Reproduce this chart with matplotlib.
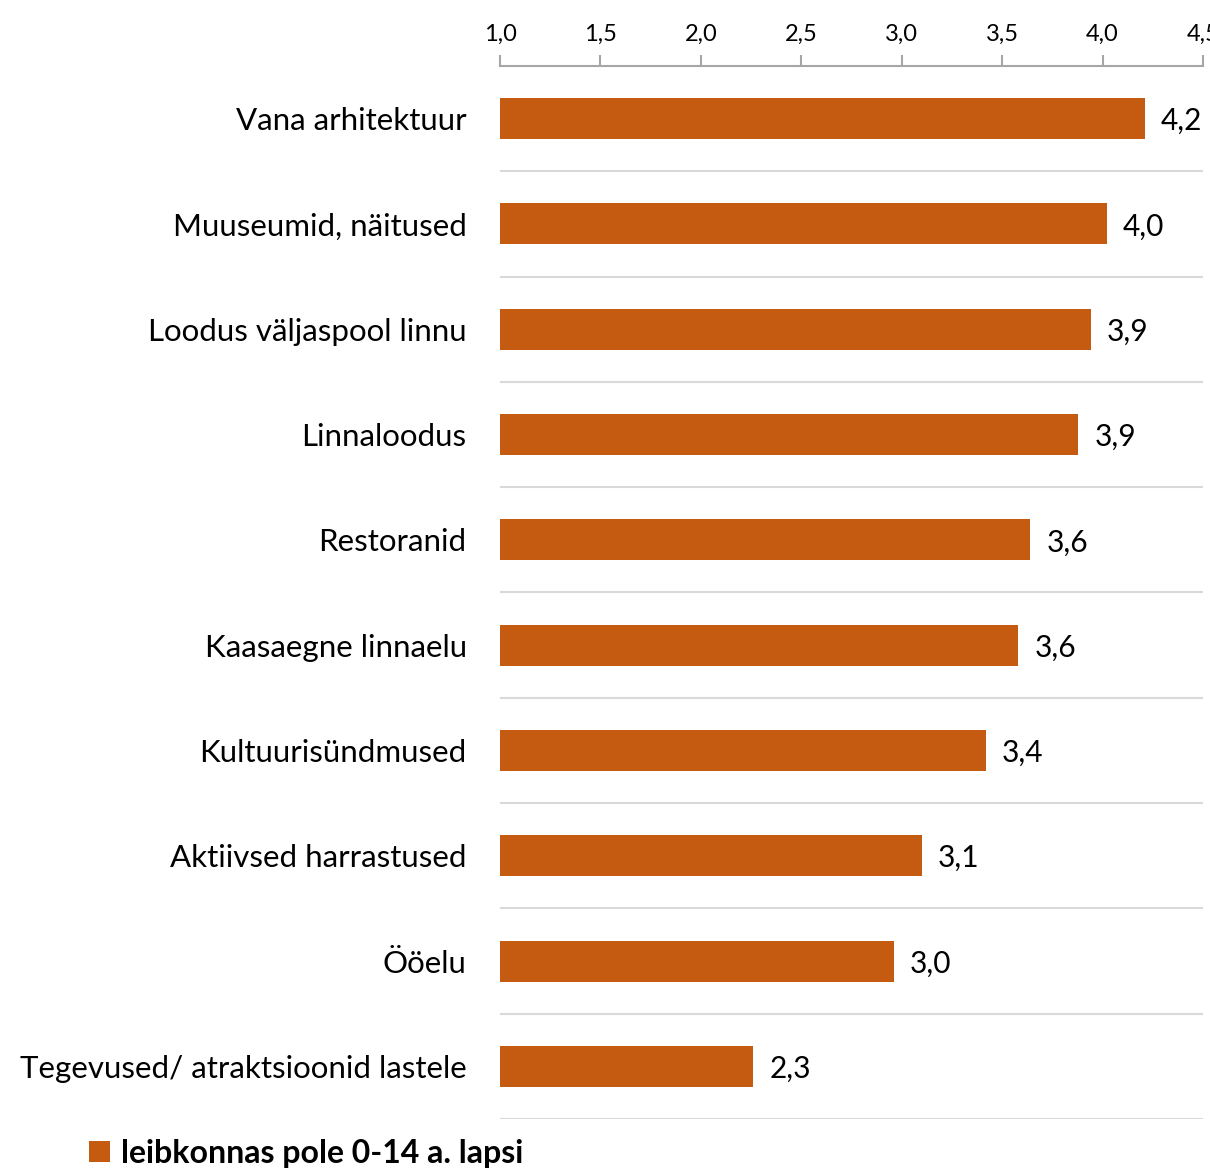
import matplotlib.pyplot as plt
import numpy as np

# andmed
categories = ['Vana arhitektuur', 'Muuseumid, näitused', 'Loodus väljaspool linnu',
              'Linnaloodus', 'Restoranid', 'Kaasaegne linnaelu', 'Kultuurisündmused',
              'Aktiivsed harrastused', 'Ööelu', 'Tegevused/ atraktsioonid lastele']
values = [4.21, 4.02, 3.94, 3.88, 3.64, 3.58, 3.42, 3.10, 2.96, 2.26]
xticks = [1.0, 1.5, 2.0, 2.5, 3.0, 3.5, 4.0, 4.5]
series_name = 'leibkonnas pole 0-14 a. lapsi'

bar_color = '#c55a11'
plt.rcParams['font.family'] = ['Lato', 'DejaVu Sans']

fig = plt.figure(figsize=(12.1, 11.71), dpi=100)
ax = fig.add_axes([500/1210, 1 - 1119/1171, 703/1210, (1119 - 66)/1171])

y = np.arange(len(categories))
base = xticks[0]
bars = ax.barh(y, [v - base for v in values], left=base, height=0.39,
               color=bar_color, label=series_name)

ax.set_xlim(xticks[0], xticks[-1])
ax.set_ylim(len(categories) - 0.5, -0.5)

# x telg üleval
ax.xaxis.tick_top()
ax.set_xticks(xticks)
ax.set_xticklabels([f'{t:.1f}'.replace('.', ',') for t in xticks], fontsize=17)
ax.tick_params(axis='x', direction='out', length=8, width=1.5, color='#a6a6a6', pad=7)

ax.set_yticks(y)
ax.set_yticklabels(categories, fontsize=22.5)
ax.tick_params(axis='y', length=0, pad=24)

# jooned kategooriate vahel
ax.set_yticks(np.arange(0.5, len(categories), 1), minor=True)
ax.tick_params(axis='y', which='minor', length=0)
ax.grid(axis='y', which='minor', color='#d9d9d9', linewidth=1.5)
ax.set_axisbelow(True)

for s in ['left', 'right', 'bottom']:
    ax.spines[s].set_visible(False)
ax.spines['top'].set_color('#a6a6a6')
ax.spines['top'].set_linewidth(1.5)

# väärtused
for bar, v in zip(bars, values):
    ax.text(bar.get_x() + bar.get_width() + 0.08, bar.get_y() + bar.get_height()/2,
            f'{v:.1f}'.replace('.', ','), va='center_baseline', ha='left', fontsize=21.5,
            clip_on=False)

leg = fig.legend(loc='center left', bbox_to_anchor=(60/1210, 1 - 1153/1171),
                 frameon=False, handlelength=0.65, handleheight=0.65, handletextpad=0.35,
                 prop={'size': 23, 'weight': 'bold'})

plt.savefig('out.png', dpi=100)
